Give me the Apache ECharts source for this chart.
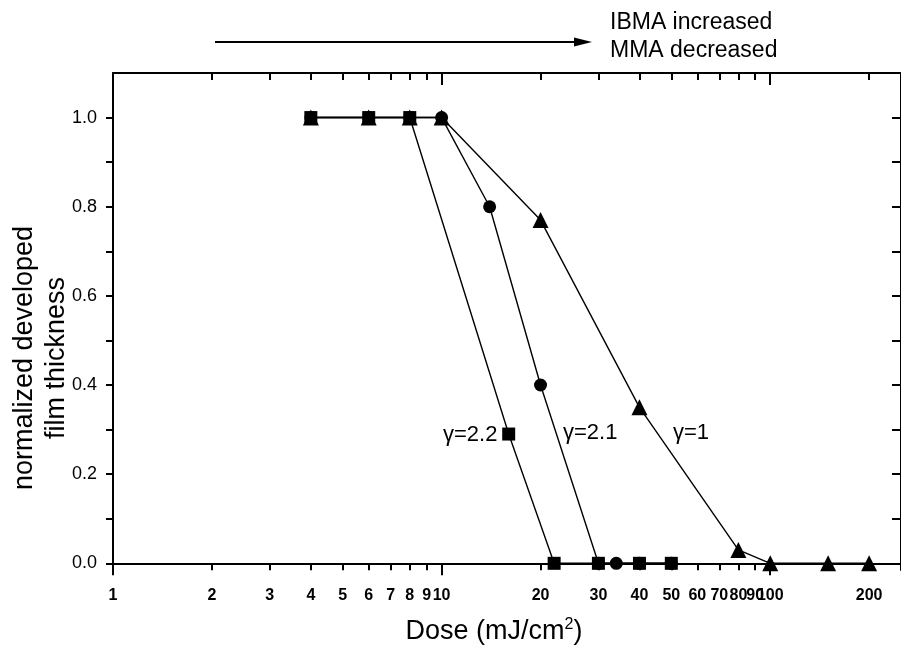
<!DOCTYPE html>
<html><head><meta charset="utf-8">
<script src="https://cdn.jsdelivr.net/npm/echarts@6/dist/echarts.min.js"></script>
<style>html,body{margin:0;padding:0;background:#fff}#c{width:901px;height:654px}</style>
</head><body><div id="c"></div>
<script>
// Data (dose in mJ/cm^2, normalized developed film thickness)
const squareSeries = [[4,1],[6,1],[8,1],[16,0.29],[22,0],[30,0],[40,0],[50,0]];
const circleSeries = [[4,1],[6,1],[8,1],[10,1],[14,0.8],[20,0.4],[30,0],[34,0],[40,0],[50,0]];
const triangleSeries = [[4,1],[6,1],[8,1],[10,1],[20,0.77],[40,0.35],[80,0.03],[100,0],[150,0],[200,0]];
const xTicks = [1,2,3,4,5,6,7,8,9,10,20,30,40,50,60,70,80,90,100,200];
const xMajorTicks = [1,10,100];
const yTicks = [0,0.1,0.2,0.3,0.4,0.5,0.6,0.7,0.8,0.9,1.0];
const yLabels = [0,0.2,0.4,0.6,0.8,1.0];
const gammaLabels = ['γ=2.2','γ=2.1','γ=1'];
const noteLines = ['IBMA increased','MMA decreased'];
const xTitle = 'Dose (mJ/cm';
const yTitleLines = ['normalized developed','film thickness'];

const FONT = '"Liberation Sans", Arial, Helvetica, sans-serif';
const chart = echarts.init(document.getElementById('c'), null, {renderer:'canvas'});

function xAxisDef(pos, ticks, len, inside, showLine, showLabel){
  return {
    type:'log', logBase:10, min:1, max:250, position:pos, gridIndex:0,
    axisLine:{show:showLine, lineStyle:{color:'#000', width:2}},
    axisTick:{show:true, customValues:ticks, length:len, inside:inside, lineStyle:{color:'#000', width:2}},
    axisLabel:{show:showLabel, customValues:ticks, color:'#000', fontFamily:FONT, fontSize:16, fontWeight:'bold', margin:18, formatter:v=>String(Math.round(v))},
    splitLine:{show:false}, minorTick:{show:false}
  };
}

const option = {
  animation:false,
  backgroundColor:'#fff',
  grid:{left:113, top:73, right:-2, bottom:84, containLabel:false},
  xAxis:[
    xAxisDef('bottom', xTicks, 7, false, true, true),
    xAxisDef('bottom', xMajorTicks, 12, false, false, false),
    xAxisDef('top', xTicks, 7, true, true, false),
    xAxisDef('top', xMajorTicks, 12, true, false, false)
  ],
  yAxis:[
    {type:'value', min:-0.015, max:1.1, position:'left',
     axisLine:{show:true, lineStyle:{color:'#000', width:2}},
     axisTick:{show:true, customValues:yTicks, length:7, inside:false, lineStyle:{color:'#000', width:2}},
     axisLabel:{customValues:yLabels, color:'#000', fontFamily:FONT, fontSize:18, margin:16, formatter:v=>v.toFixed(1)},
     splitLine:{show:false}},
    {type:'value', min:-0.015, max:1.1, position:'right',
     axisLine:{show:true, lineStyle:{color:'#000', width:2}},
     axisTick:{show:true, customValues:yTicks, length:9, inside:true, lineStyle:{color:'#000', width:2}},
     axisLabel:{show:false}, splitLine:{show:false}}
  ],
  series:[
    {name:'γ=2.1', type:'line', data:circleSeries, symbol:'circle', symbolSize:13,
     itemStyle:{color:'#000'}, lineStyle:{color:'#000', width:1.4}},
    {name:'γ=1', type:'line', data:triangleSeries, symbol:'triangle', symbolSize:16,
     itemStyle:{color:'#000'}, lineStyle:{color:'#000', width:1.4}},
    {name:'γ=2.2', type:'line', data:squareSeries, symbol:'rect', symbolSize:13,
     itemStyle:{color:'#000'}, lineStyle:{color:'#000', width:1.4}}
  ],
  graphic:[
    {type:'line', shape:{x1:215, y1:42, x2:580, y2:42}, style:{stroke:'#000', lineWidth:2}},
    {type:'polygon', shape:{points:[[574,37.5],[592,42],[574,46.5]]}, style:{fill:'#000'}},
    {type:'text', x:610, y:37, style:{text:noteLines.join('\n'), fontFamily:FONT, fontSize:23, lineHeight:28, fill:'#000', textAlign:'left', textVerticalAlign:'middle'}},
    {type:'text', x:443, y:435, style:{text:gammaLabels[0], fontFamily:FONT, fontSize:22, fill:'#000', textAlign:'left', textVerticalAlign:'middle'}},
    {type:'text', x:563, y:433, style:{text:gammaLabels[1], fontFamily:FONT, fontSize:22, fill:'#000', textAlign:'left', textVerticalAlign:'middle'}},
    {type:'text', x:673, y:433, style:{text:gammaLabels[2], fontFamily:FONT, fontSize:22, fill:'#000', textAlign:'left', textVerticalAlign:'middle'}},
    {type:'text', x:41, y:358, rotation:Math.PI/2, style:{text:yTitleLines.join('\n'), fontFamily:FONT, fontSize:27, lineHeight:32, fill:'#000', textAlign:'center', textVerticalAlign:'middle'}},
    {type:'text', x:494, y:632, style:{text:'{a|'+xTitle+'}{s|2}{a|)}', fill:'#000', textAlign:'center', textVerticalAlign:'middle',
      rich:{a:{fontFamily:FONT, fontSize:27, fill:'#000', lineHeight:30}, s:{fontFamily:FONT, fontSize:16, fill:'#000', verticalAlign:'top', lineHeight:30, padding:[0,0,14,0]}}}}
  ]
};
chart.setOption(option);
</script></body></html>
